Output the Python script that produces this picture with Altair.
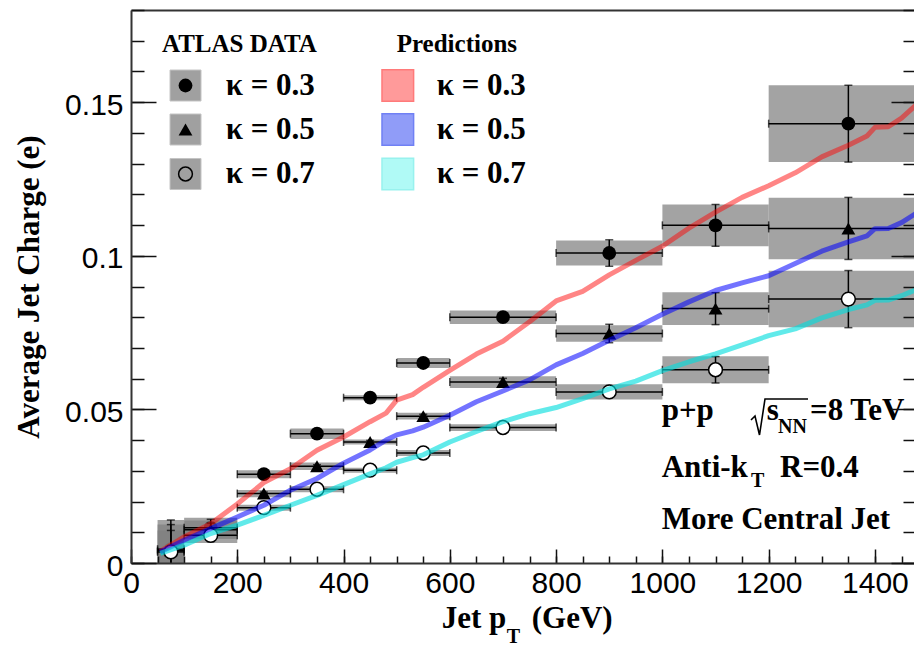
import altair as alt
import pandas as pd

# ---------------- data ----------------
bin_lo = [50, 100, 200, 300, 400, 500, 600, 800, 1000, 1200]
bin_hi = [100, 200, 300, 400, 500, 600, 800, 1000, 1200, 1500]
bin_center = [75, 150, 250, 350, 450, 550, 700, 900, 1100, 1350]

series_names = ["κ = 0.3", "κ = 0.5", "κ = 0.7"]

data_k03 = [0.0045, 0.0115, 0.0289, 0.0421, 0.0538, 0.0651, 0.0800, 0.1009, 0.1099, 0.1430]
stat_k03 = [0.0095, 0.0027, 0.0006, 0.0006, 0.0006, 0.0007, 0.0008, 0.0043, 0.0068, 0.0125]
sys_k03 = [0.0095, 0.0032, 0.0013, 0.0017, 0.0008, 0.0016, 0.0022, 0.0041, 0.0068, 0.0125]

data_k05 = [0.0040, 0.0108, 0.0226, 0.0315, 0.0394, 0.0478, 0.0589, 0.0747, 0.0828, 0.1089]
stat_k05 = [0.0085, 0.0022, 0.0005, 0.0005, 0.0005, 0.0006, 0.0012, 0.0030, 0.0052, 0.0101]
sys_k05 = [0.0085, 0.0030, 0.0012, 0.0012, 0.0008, 0.0011, 0.0019, 0.0027, 0.0053, 0.0100]

data_k07 = [0.0036, 0.0090, 0.0180, 0.0240, 0.0302, 0.0358, 0.0441, 0.0557, 0.0629, 0.0859]
stat_k07 = [0.0070, 0.0020, 0.0005, 0.0005, 0.0005, 0.0006, 0.0008, 0.0016, 0.0043, 0.0093]
sys_k07 = [0.0070, 0.0025, 0.0010, 0.0010, 0.0008, 0.0010, 0.0011, 0.0025, 0.0044, 0.0092]

pred_pt = [55, 100, 150, 200, 250, 300, 350, 400, 450, 480, 500, 530, 550, 600, 650, 700, 750,
           800, 850, 900, 950, 1000, 1050, 1100, 1150, 1200, 1250, 1300, 1350, 1385, 1400,
           1425, 1450, 1478]
pred_k03 = [0.0038, 0.0085, 0.0128, 0.0192, 0.0262, 0.0307, 0.0367, 0.0410, 0.0460, 0.0488,
            0.0530, 0.0548, 0.0572, 0.0627, 0.0680, 0.0722, 0.0785, 0.0853, 0.0884, 0.0938,
            0.0985, 0.1031, 0.1090, 0.1142, 0.1190, 0.1228, 0.1270, 0.1322, 0.1360, 0.1390,
            0.1418, 0.1420, 0.1448, 0.1492]
pred_k05 = [0.0036, 0.0074, 0.0112, 0.0150, 0.0188, 0.0237, 0.0275, 0.0325, 0.0368, 0.0400,
            0.0417, 0.0430, 0.0442, 0.0481, 0.0525, 0.0560, 0.0596, 0.0645, 0.0682, 0.0725,
            0.0766, 0.0810, 0.0850, 0.0887, 0.0912, 0.0935, 0.0975, 0.1015, 0.1045, 0.1065,
            0.1088, 0.1089, 0.1108, 0.1139]
pred_k07 = [0.0031, 0.0058, 0.0096, 0.0123, 0.0155, 0.0188, 0.0220, 0.0255, 0.0290, 0.0310,
            0.0328, 0.0343, 0.0352, 0.0394, 0.0428, 0.0460, 0.0486, 0.0506, 0.0535, 0.0567,
            0.0592, 0.0626, 0.0655, 0.0681, 0.0710, 0.0740, 0.0762, 0.0798, 0.0825, 0.0840,
            0.0855, 0.0856, 0.0870, 0.0890]

x_major = [0, 200, 400, 600, 800, 1000, 1200, 1400]
x_minor = list(range(0, 1501, 50))
y_major = [0, 0.05, 0.1, 0.15]
y_minor = [i / 100 for i in range(0, 19)]

# ---------------- styles / layout ----------------
W, H = 783, 553
X_DOM = [0, 1473.5]
Y_DOM = [0, 0.18]
SERIF = "Liberation Serif"
SANS = "Liberation Sans"
line_colors = ["#ff0000", "#0000ff", "#00dddd"]
square_fill = ["#ff9a9a", "#909cf8", "#b0faf6"]
square_stroke = ["#ff7a7a", "#7080f4", "#98f2ee"]

# ---------------- tables ----------------
rows = []
for name, v, st, sy in [(series_names[0], data_k03, stat_k03, sys_k03),
                        (series_names[1], data_k05, stat_k05, sys_k05),
                        (series_names[2], data_k07, stat_k07, sys_k07)]:
    for lo, hi, c, val, s1, s2 in zip(bin_lo, bin_hi, bin_center, v, st, sy):
        rows.append(dict(series=name, lo=lo, hi=hi, center=c, val=val,
                         slo=val - s1, shi=val + s1, blo=val - s2, bhi=val + s2))
df = pd.DataFrame(rows)

caps_h = pd.concat([df.assign(cx=df["lo"]), df.assign(cx=df["hi"])])
caps_v = pd.concat([df.assign(cy=df["slo"]), df.assign(cy=df["shi"])])

pred_rows = []
for name, ys_ in zip(series_names, [pred_k03, pred_k05, pred_k07]):
    for xv, yv in zip(pred_pt, ys_):
        pred_rows.append(dict(series=name, pt=xv, q=yv))
pred = pd.DataFrame(pred_rows)

xs = alt.Scale(domain=X_DOM, nice=False, zero=False)
ys = alt.Scale(domain=Y_DOM, nice=False, zero=False)

common_ax = dict(grid=False, zindex=1, tickColor="#111", tickWidth=1.5,
                 domainColor="#333", domainWidth=2)

ax_bottom_major = alt.Axis(orient="bottom", values=x_major, tickSize=14, offset=-14,
                           domain=False, labelFont=SANS, labelFontSize=30, labelColor="black",
                           labelPadding=5, labelFlush=False, labelOverlap=False, format="d",
                           title=None, **common_ax)
ax_bottom_minor = alt.Axis(orient="bottom", values=x_minor, tickSize=7, offset=-7,
                           domain=False, labels=False, title=None, **common_ax)
ax_bottom_dom = alt.Axis(orient="bottom", ticks=False, labels=False, domain=True,
                         title=None, **common_ax)
ax_top_dom = alt.Axis(orient="top", ticks=False, labels=False, domain=True,
                      title=None, **common_ax)

ax_left_major = alt.Axis(orient="left", values=y_major, tickSize=25, offset=-25,
                         domain=False, labelFont=SANS, labelFontSize=30, labelColor="black",
                         labelPadding=8, labelOffset=3, labelFlush=False, labelOverlap=False,
                         format=".2~f",
                         title="Average Jet Charge (e)", titleFont=SERIF, titleFontSize=31,
                         titleFontWeight="bold", titleColor="black", titlePadding=19,
                         **common_ax)
ax_left_minor = alt.Axis(orient="left", values=y_minor, tickSize=13, offset=-13,
                         domain=False, labels=False, title=None, **common_ax)
ax_left_dom = alt.Axis(orient="left", ticks=False, labels=False, domain=True,
                       title=None, **common_ax)
ax_right_major = alt.Axis(orient="right", values=y_major, tickSize=23, offset=-23,
                          domain=False, labels=False, title=None, **common_ax)
ax_right_minor = alt.Axis(orient="right", values=y_minor, tickSize=11, offset=-11,
                          domain=False, labels=False, title=None, **common_ax)

base = alt.Chart(df)


def only(name):
    return alt.FieldEqualPredicate(field="series", equal=name)


box_kw = dict(color="#808080", opacity=0.72, clip=True)

box03 = base.transform_filter(only(series_names[0])).mark_rect(**box_kw).encode(
    x=alt.X("lo:Q", scale=xs, axis=ax_bottom_major), x2="hi:Q",
    y=alt.Y("blo:Q", scale=ys, axis=ax_left_major), y2="bhi:Q")
box05 = base.transform_filter(only(series_names[1])).mark_rect(**box_kw).encode(
    x=alt.X("lo:Q", scale=xs, axis=None), x2="hi:Q",
    y=alt.Y("blo:Q", scale=ys, axis=None), y2="bhi:Q")
box07 = base.transform_filter(only(series_names[2])).mark_rect(**box_kw).encode(
    x=alt.X("lo:Q", scale=xs, axis=None), x2="hi:Q",
    y=alt.Y("blo:Q", scale=ys, axis=None), y2="bhi:Q")

pts03 = base.transform_filter(only(series_names[0])).mark_point(
    filled=True, color="black", opacity=1, size=190, shape="circle", clip=True).encode(
    x=alt.X("center:Q", scale=xs, axis=None), y=alt.Y("val:Q", scale=ys, axis=None))
pts05 = base.transform_filter(only(series_names[1])).mark_point(
    filled=True, color="black", opacity=1, size=190, shape="triangle-up", clip=True).encode(
    x=alt.X("center:Q", scale=xs, axis=None), y=alt.Y("val:Q", scale=ys, axis=None))
pts07 = base.transform_filter(only(series_names[2])).mark_point(
    filled=True, fill="white", stroke="black", strokeWidth=1.5, opacity=1,
    fillOpacity=1, strokeOpacity=1, size=190, shape="circle", clip=True).encode(
    x=alt.X("center:Q", scale=xs, axis=None), y=alt.Y("val:Q", scale=ys, axis=None))

hbars = base.mark_rule(color="black", strokeWidth=1.5, clip=True).encode(
    x=alt.X("lo:Q", scale=xs, axis=ax_bottom_minor), x2="hi:Q",
    y=alt.Y("val:Q", scale=ys, axis=ax_left_minor))

vbars = base.mark_rule(color="black", strokeWidth=1.5, clip=True).encode(
    x=alt.X("center:Q", scale=xs, axis=ax_bottom_dom),
    y=alt.Y("slo:Q", scale=ys, axis=ax_left_dom), y2="shi:Q")

hcaps = alt.Chart(caps_h).mark_tick(orient="vertical", size=8, thickness=1.5,
                                    color="black", clip=True).encode(
    x=alt.X("cx:Q", scale=xs, axis=ax_top_dom),
    y=alt.Y("val:Q", scale=ys, axis=ax_right_major))

vcaps = alt.Chart(caps_v).mark_tick(orient="horizontal", size=8, thickness=1.5,
                                    color="black", clip=True).encode(
    x=alt.X("center:Q", scale=xs, axis=None),
    y=alt.Y("cy:Q", scale=ys, axis=ax_right_minor))

lines = alt.Chart(pred).mark_line(strokeWidth=5, clip=True, strokeJoin="round").encode(
    x=alt.X("pt:Q", scale=xs, axis=None),
    y=alt.Y("q:Q", scale=ys, axis=None),
    color=alt.Color("series:N", scale=alt.Scale(domain=series_names, range=line_colors),
                    legend=None),
    opacity=alt.Opacity("series:N", scale=alt.Scale(domain=series_names,
                                                    range=[0.48, 0.62, 0.5]),
                        legend=None),
    order="pt:Q",
)

# ---------------- legend (pixel layout) ----------------
leg = pd.DataFrame(dict(series=series_names, py=[75.5, 119.5, 164],
                        ty=[85, 129.3, 173.3],
                        dpx=[54.5] * 3, tpx=[94.7] * 3,
                        ppx=[266.8] * 3, ptx=[305.7] * 3,
                        fill=square_fill, stroke=square_stroke))


def PX(f):
    return alt.X(f, type="quantitative", scale=None, axis=None)


def PY(f):
    return alt.Y(f, type="quantitative", scale=None, axis=None)


leg_sq = alt.Chart(leg).mark_square(size=961, color="#a0a0a0", opacity=1,
                                    stroke="#c4c4c4", strokeWidth=1).encode(
    x=PX("dpx"), y=PY("py"))
leg_m1 = alt.Chart(leg.iloc[:2]).mark_point(filled=True, color="black", opacity=1,
                                            size=190).encode(
    x=PX("dpx"), y=PY("py"),
    shape=alt.Shape("series:N", scale=alt.Scale(domain=series_names[:2],
                                                range=["circle", "triangle-up"]),
                    legend=None))
leg_m2 = alt.Chart(leg.iloc[2:]).mark_point(filled=False, color="black", opacity=1,
                                            strokeWidth=1.5, size=190,
                                            shape="circle").encode(
    x=PX("dpx"), y=PY("py"))
leg_t1 = alt.Chart(leg).mark_text(align="left", baseline="alphabetic", font=SERIF,
                                  fontWeight="bold", fontSize=31, color="black").encode(
    x=PX("tpx"), y=PY("ty"), text="series:N")
leg_psq = alt.Chart(leg).mark_square(size=1000, opacity=1, strokeWidth=1.5).encode(
    x=PX("ppx"), y=PY("py"),
    fill=alt.Fill("fill:N", scale=None), stroke=alt.Stroke("stroke:N", scale=None))
leg_t2 = alt.Chart(leg).mark_text(align="left", baseline="alphabetic", font=SERIF,
                                  fontWeight="bold", fontSize=31, color="black").encode(
    x=PX("ptx"), y=PY("ty"), text="series:N")

heads = pd.DataFrame(dict(t=["ATLAS DATA", "Predictions"], px=[31, 265.7], py=[41.7, 41.7]))
leg_heads = alt.Chart(heads).mark_text(align="left", baseline="alphabetic", font=SERIF,
                                       fontWeight="bold", fontSize=25, color="black").encode(
    x=PX("px"), y=PY("py"), text="t:N")

# ---------------- annotations ----------------
ann_big = pd.DataFrame(dict(
    t=["p+p", "s", "=8 TeV", "Anti-k", "R=0.4", "More Central Jet"],
    px=[530.7, 635.7, 679, 530.7, 649, 530.7],
    py=[410, 410, 410, 466.7, 466.7, 519.3]))
ann_small = pd.DataFrame(dict(t=["NN", "T"], px=[647, 620], py=[423, 476.7]))

ann1 = alt.Chart(ann_big).mark_text(align="left", baseline="alphabetic", font=SERIF,
                                    fontWeight="bold", fontSize=31, color="black").encode(
    x=PX("px"), y=PY("py"), text="t:N")
ann2 = alt.Chart(ann_small).mark_text(align="left", baseline="alphabetic", font=SERIF,
                                      fontWeight="bold", fontSize=20, color="black").encode(
    x=PX("px"), y=PY("py"), text="t:N")
# radical sign drawn as a path
radical = pd.DataFrame(dict(k=[0, 1, 2, 3, 4],
                            px=[620, 624, 628.5, 634, 677],
                            py=[410, 406, 425, 389, 389]))
root = alt.Chart(radical).mark_line(color="black", strokeWidth=1.6,
                                    strokeJoin="miter").encode(
    x=PX("px"), y=PY("py"), order="k:Q")

# ---------------- x-axis title with subscript ----------------
xt_big = pd.DataFrame(dict(t=["Jet p", "(GeV)"], px=[310.7, 400.7], py=[618, 618]))
xt_small = pd.DataFrame(dict(t=["T"], px=[375.7], py=[633]))
xt1 = alt.Chart(xt_big).mark_text(align="left", baseline="alphabetic", font=SERIF,
                                  fontWeight="bold", fontSize=31, color="black").encode(
    x=PX("px"), y=PY("py"), text="t:N")
xt2 = alt.Chart(xt_small).mark_text(align="left", baseline="alphabetic", font=SERIF,
                                    fontWeight="bold", fontSize=20, color="black").encode(
    x=PX("px"), y=PY("py"), text="t:N")

chart = alt.layer(
    box03, pts03, box05, pts05, box07,
    hbars, vbars, hcaps, vcaps, pts07, lines,
    leg_sq, leg_m1, leg_m2, leg_t1, leg_psq, leg_t2, leg_heads,
    ann1, ann2, root, xt1, xt2,
).resolve_axis(x="independent", y="independent").resolve_scale(
    x="shared", y="shared"
).properties(
    width=W, height=H,
    autosize=alt.AutoSizeParams(type="none"),
    padding={"left": 123, "top": 2, "right": 0, "bottom": 84},
).configure_view(stroke=None).configure(background="white")

chart.save("out.html", embed_options={"renderer": "svg", "actions": False})
